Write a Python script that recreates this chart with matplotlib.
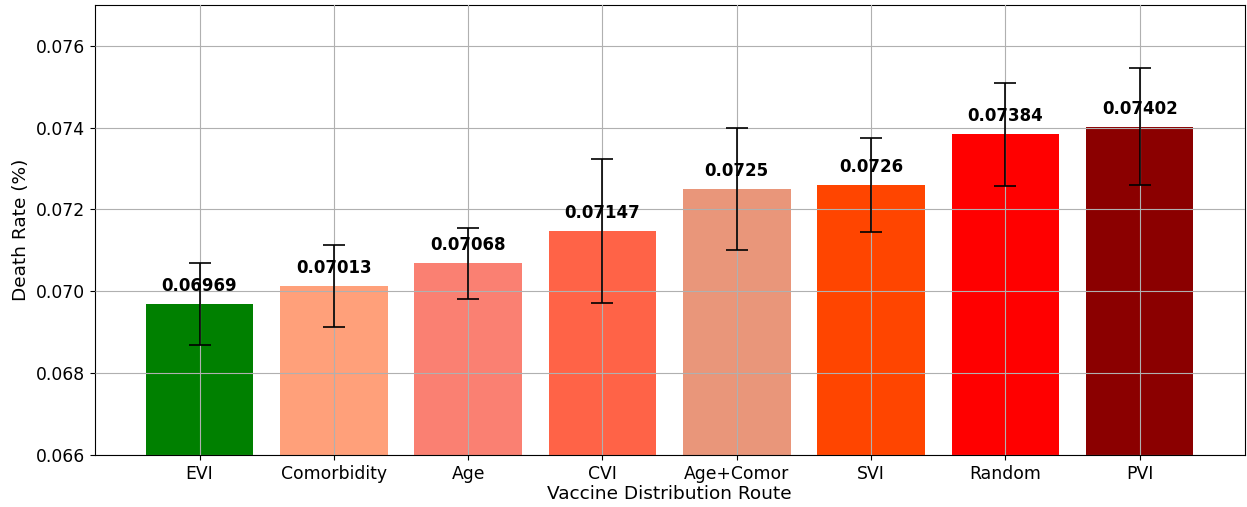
import matplotlib

matplotlib.use("Agg")
import matplotlib.pyplot as plt

ROUTES = ["EVI", "Comorbidity", "Age", "CVI", "Age+Comor", "SVI", "Random", "PVI"]
DEATH_RATE = [0.06969, 0.07013, 0.07068, 0.07147, 0.0725, 0.0726, 0.07384, 0.07402]
ERRORS = [0.00100, 0.00100, 0.00087, 0.00176, 0.00150, 0.00116, 0.00126, 0.00143]
COLORS = ["green", "lightsalmon", "salmon", "tomato", "darksalmon", "orangered", "red", "darkred"]

fig, ax = plt.subplots(figsize=(12.47, 5.07), dpi=100)
fig.subplots_adjust(left=0.076, right=0.998, top=0.99, bottom=0.103)

x = range(len(ROUTES))
ax.bar(x, DEATH_RATE, width=0.8, color=COLORS, yerr=ERRORS, capsize=8,
       error_kw={"elinewidth": 1.2, "capthick": 1.2, "ecolor": "black", "zorder": 3})
for i, v in enumerate(DEATH_RATE):
    ax.text(i, v + 0.00022, f"{v}", ha="center", va="bottom",
            fontsize=12, fontweight="bold", zorder=4)

ax.set_xticks(list(x))
ax.set_xticklabels(ROUTES)
ax.set_xlim(-0.78, 7.78)
ax.set_ylim(0.066, 0.077)
ax.set_yticks([0.066, 0.068, 0.070, 0.072, 0.074, 0.076])
ax.tick_params(labelsize=12.4)
ax.set_xlabel("Vaccine Distribution Route", fontsize=13.3, labelpad=2)
ax.set_ylabel("Death Rate (%)", fontsize=13.3)
ax.grid(True, color="#b0b0b0", linewidth=0.8, zorder=2)
ax.set_axisbelow(False)

fig.savefig("out.png", dpi=100)
